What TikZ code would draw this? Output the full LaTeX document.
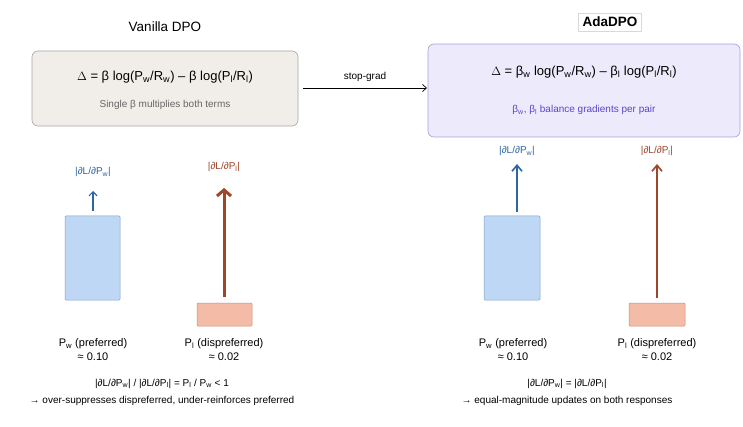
\documentclass[tikz,border=0pt]{standalone}
\usepackage{fontspec}
\setmainfont{Liberation Sans}
\usetikzlibrary{arrows.meta,positioning}
\definecolor{wblue}{HTML}{2E66A3}
\definecolor{lred}{HTML}{A0442A}
\definecolor{wfill}{HTML}{BDD7F5}
\definecolor{lfill}{HTML}{F4BCA6}
\definecolor{vfill}{HTML}{F1EEE9}
\definecolor{afill}{HTML}{ECEAFB}
\definecolor{aedge}{HTML}{A99CEB}
\definecolor{atext}{HTML}{5A45D0}
\newcommand{\sub}[1]{\textsubscript{#1}}
\tikzset{
  eqbox/.style={draw, rounded corners=6pt, line width=0.6pt},
  bar/.style={draw, rounded corners=1pt, line width=0.5pt},
  grad/.style={-{Straight Barb[length=6pt,width=10pt,line width=1.6pt]}},
  lbl/.style={font=\fontsize{10}{12}\selectfont, align=center}
}
\begin{document}
\begin{tikzpicture}[x=1pt,y=-1pt]
    \useasboundingbox[fill=white] (0,0) rectangle (743,427);
    % titles
    \node[font=\fontsize{13.5}{15}\selectfont] (vtitle) at (165,27) {Vanilla DPO};
    \node[draw=black!15, fill=white, font=\bfseries\fontsize{13.5}{15}\selectfont, inner sep=4pt] (atitle) at (610,22) {AdaDPO};
    % loss boxes
    \draw[eqbox, draw=black!35, fill=vfill] (32,51) rectangle (298,126);
    \node[font=\fontsize{13}{15}\selectfont] (veq) at (165,77) {$\Delta$ = β log(P\sub{w}/R\sub{w}) -- β log(P\sub{l}/R\sub{l})};
    \node[lbl, text=black!60] (vsub) at (165,105) {Single β multiplies both terms};
    \draw[eqbox, draw=aedge, fill=afill] (428,44) rectangle (740,137);
    \node[font=\fontsize{13}{15}\selectfont] (aeq) at (584,72) {$\Delta$ = β\sub{w} log(P\sub{w}/R\sub{w}) -- β\sub{l} log(P\sub{l}/R\sub{l})};
    \node[lbl, text=atext] (asub) at (584,110) {β\sub{w}, β\sub{l} balance gradients per pair};
    \coordinate (sgA) at (303,88);
    \coordinate (sgB) at (427,88);
    \draw[-{Straight Barb[length=4pt,width=7pt]}, line width=0.7pt] (sgA) -- node[lbl, above=3pt] {stop-grad} (sgB);
    % vanilla bars
    \draw[bar, draw=wblue!60, fill=wfill] (65,216) rectangle (120,300);
    \draw[bar, draw=lred!60, fill=lfill] (197,303) rectangle (252,326);
    \coordinate (vw0) at (93,211); \coordinate (vw1) at (93,191);
    \coordinate (vl0) at (224,297); \coordinate (vl1) at (224,188);
    \draw[-{Straight Barb[length=4pt,width=8pt,line width=1.2pt]}, wblue, line width=1.2pt] (vw0) -- (vw1);
    \draw[-{Straight Barb[length=6pt,width=14pt,line width=3pt]}, lred, line width=3pt] (vl0) -- (vl1);
    \node[lbl, text=wblue] (vwl) at (93,172) {|∂L/∂P\sub{w}|};
    \node[lbl, text=lred] (vll) at (224,167) {|∂L/∂P\sub{l}|};
    % adadpo bars
    \draw[bar, draw=wblue!60, fill=wfill] (484,216) rectangle (540,300);
    \draw[bar, draw=lred!60, fill=lfill] (629,303) rectangle (685,326);
    \coordinate (aw0) at (517,212); \coordinate (aw1) at (517,164);
    \coordinate (al0) at (657,298); \coordinate (al1) at (657,164);
    \draw[grad, wblue, line width=1.8pt] (aw0) -- (aw1);
    \draw[grad, lred, line width=1.8pt] (al0) -- (al1);
    \node[lbl, text=wblue] (awl) at (517,151) {|∂L/∂P\sub{w}|};
    \node[lbl, text=lred] (all) at (657,151) {|∂L/∂P\sub{l}|};
    % captions
    \node[lbl, font=\fontsize{11}{14}\selectfont] (vwc) at (93,350) {P\sub{w} (preferred)\\≈ 0.10};
    \node[lbl, font=\fontsize{11}{14}\selectfont] (vlc) at (224,350) {P\sub{l} (dispreferred)\\≈ 0.02};
    \node[lbl, font=\fontsize{11}{14}\selectfont] (awc) at (513,350) {P\sub{w} (preferred)\\≈ 0.10};
    \node[lbl, font=\fontsize{11}{14}\selectfont] (alc) at (657,350) {P\sub{l} (dispreferred)\\≈ 0.02};
    \node[lbl, font=\fontsize{10}{17}\selectfont] (vnote) at (162,392) {|∂L/∂P\sub{w}| / |∂L/∂P\sub{l}| = P\sub{l} / P\sub{w} < 1\\→ over-suppresses dispreferred, under-reinforces preferred};
    \node[lbl, font=\fontsize{10}{17}\selectfont] (anote) at (567,392) {|∂L/∂P\sub{w}| = |∂L/∂P\sub{l}|\\→ equal-magnitude updates on both responses};
\end{tikzpicture}
\end{document}
